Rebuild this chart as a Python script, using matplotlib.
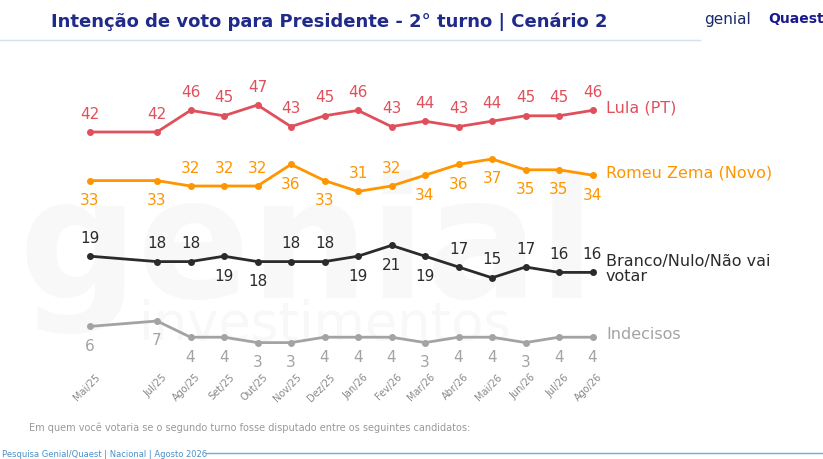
import numpy as np
import matplotlib.pyplot as plt

months = ["Mai/25", "Jul/25", "Ago/25", "Set/25", "Out/25", "Nov/25", "Dez/25", "Jan/26",
          "Fev/26", "Mar/26", "Abr/26", "Mai/26", "Jun/26", "Jul/26", "Ago/26"]
month_pos = [0, 2, 3, 4, 5, 6, 7, 8, 9, 10, 11, 12, 13, 14, 15]

lula = [42, 42, 46, 45, 47, 43, 45, 46, 43, 44, 43, 44, 45, 45, 46]
zema = [33, 33, 32, 32, 32, 36, 33, 31, 32, 34, 36, 37, 35, 35, 34]
branco = [19, 18, 18, 19, 18, 18, 18, 19, 21, 19, 17, 15, 17, 16, 16]
indecisos = [6, 7, 4, 4, 3, 3, 4, 4, 4, 3, 4, 4, 3, 4, 4]

# label above (1) or below (-1) the point
lula_pos = [1] * 15
zema_pos = [-1, -1, 1, 1, 1, -1, -1, 1, 1, -1, -1, -1, -1, -1, -1]
branco_pos = [1, 1, 1, -1, -1, 1, 1, -1, -1, -1, 1, 1, 1, 1, 1]
indec_pos = [-1] * 15

series = [
    ("Lula (PT)", lula, lula_pos, "#e0505c"),
    ("Romeu Zema (Novo)", zema, zema_pos, "#ff9500"),
    ("Branco/Nulo/Não vai\nvotar", branco, branco_pos, "#2b2b2b"),
    ("Indecisos", indecisos, indec_pos, "#a3a3a3"),
]

fig = plt.figure(figsize=(8.23, 4.6), dpi=100)
ax = fig.add_axes([0, 0, 1, 1])
ax.set_xlim(-90 / 33.5, (823 - 90) / 33.5)
ax.set_ylim(42 - (460 - 133) / 5.4, 42 + 133 / 5.4)
ax.axis("off")

# faint watermark
ax.text(6.5, 20, "genial", fontsize=120, color="#f8f8f8", ha="center", va="center",
        fontweight="bold", zorder=0)
ax.text(7.0, 6.5, "investimentos", fontsize=38, color="#f8f8f8", ha="center", va="center", zorder=0)

for name, vals, pos, col in series:
    ax.plot(month_pos, vals, color=col, lw=2, marker="o", ms=4, zorder=3)
    for m, v, p in zip(month_pos, vals, pos):
        ax.text(m, v + p * 2.1, str(v), color=col, fontsize=11, ha="center",
                va="bottom" if p > 0 else "top", zorder=4)
    ax.text(15.4, vals[-1] + (0.8 if "\n" in name else 0.6), name, color=col, fontsize=11.5,
            ha="left", va="center", linespacing=1.0)

ytick = 42 - (372 - 133) / 5.4
for m, lab in zip(month_pos, months):
    ax.text(m + 0.15, ytick, lab, rotation=45, fontsize=7, color="#888888",
            ha="right", va="top", rotation_mode="anchor")

fig.text(0.062, 0.952, "Intenção de voto para Presidente - 2° turno | Cenário 2",
         fontsize=13, fontweight="bold", color="#1f2a8a", va="center")
fig.text(0.855, 0.958, "genial", fontsize=11, color="#1a2a6c", va="center")
fig.text(0.933, 0.958, "Quaest", fontsize=10, fontweight="bold", color="#1a1a8c", va="center")
fig.add_artist(plt.Line2D([0.0, 0.85], [0.91, 0.91], color="#cfe3f2", lw=1))
fig.text(0.035, 0.07, "Em quem você votaria se o segundo turno fosse disputado entre os seguintes candidatos:",
         fontsize=7, color="#999999", va="center")
fig.text(0.003, 0.013, "Pesquisa Genial/Quaest | Nacional | Agosto 2026", fontsize=6,
         color="#4a90c8", va="center")
fig.add_artist(plt.Line2D([0.25, 1.0], [0.013, 0.013], color="#6aaee0", lw=1))

fig.savefig("out.png", dpi=100)
